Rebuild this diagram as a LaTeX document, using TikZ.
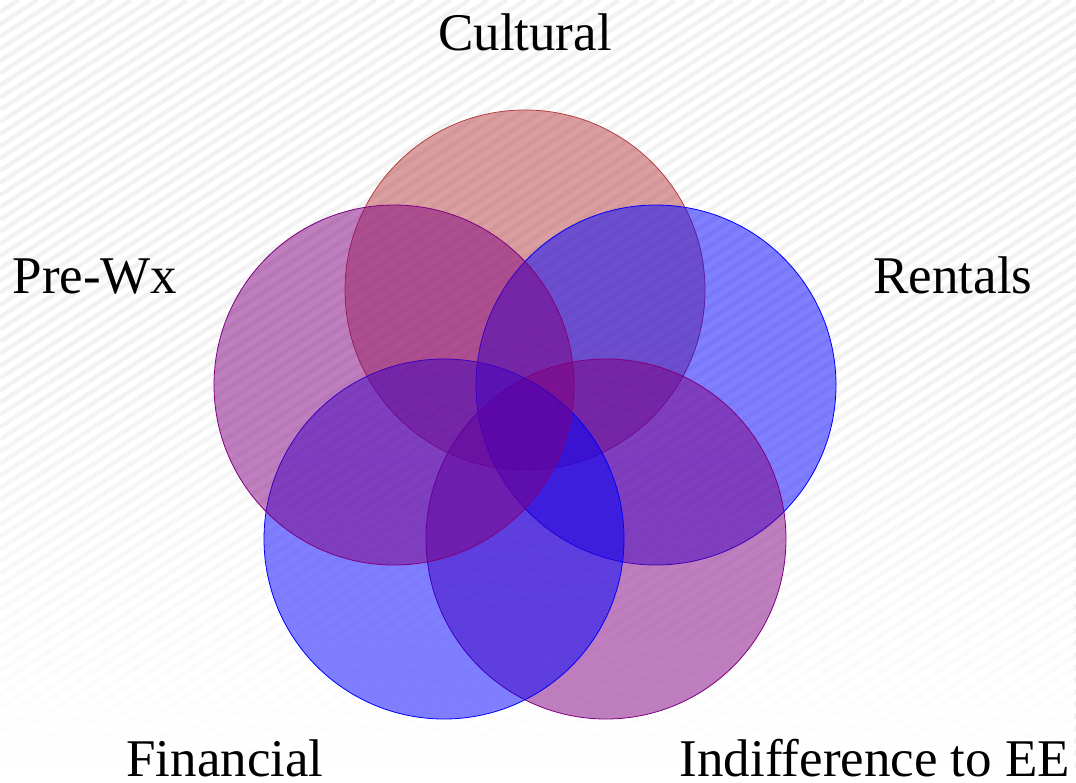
\documentclass[tikz,border=0pt]{standalone}
\usepackage{fontspec}
\setmainfont{Liberation Serif}
\usetikzlibrary{fadings}
\definecolor{culred}{RGB}{182,62,66}
\definecolor{vio}{RGB}{128,0,128}
\begin{document}
\begin{tikzpicture}[x=1pt,y=-1pt,
  venn/.style={circle, minimum size=360pt, inner sep=0pt, line width=0.8pt, fill opacity=0.5},
  lab/.style={font=\fontsize{53}{60}\selectfont, anchor=base, inner sep=0pt},
  stripe/.style={line width=4.5pt, black!5}]
\useasboundingbox (0,0) rectangle (1076,782);
\begin{scope}
  \clip (0,0) rectangle (1076,770);
  \foreach \c in {0,12.2,...,1600} \draw[stripe] (0,\c) -- ({\c/0.65},0);
\end{scope}
\fill[white, path fading=north] (0,340) rectangle (1076,770);
\fill[white] (0,769) rectangle (1076,782);
% circles
\node[venn, draw=culred, fill=culred] (cul) at (525,290) {};
\node[venn, draw=blue, fill=blue] (ren) at (656,385) {};
\node[venn, draw=vio, fill=vio] (ind) at (606,539) {};
\node[venn, draw=blue, fill=blue] (fin) at (444,539) {};
\node[venn, draw=vio, fill=vio] (pre) at (394,385) {};
% labels
\node[lab] (lcul) at (525,50) {Cultural};
\node[lab] (lpre) at (95,293) {Pre-Wx};
\node[lab] (lren) at (953,293) {Rentals};
\node[lab] (lfin) at (225,776) {Financial};
\node[lab] (lind) at (875,776) {Indifference to EE};
\end{tikzpicture}
\end{document}
